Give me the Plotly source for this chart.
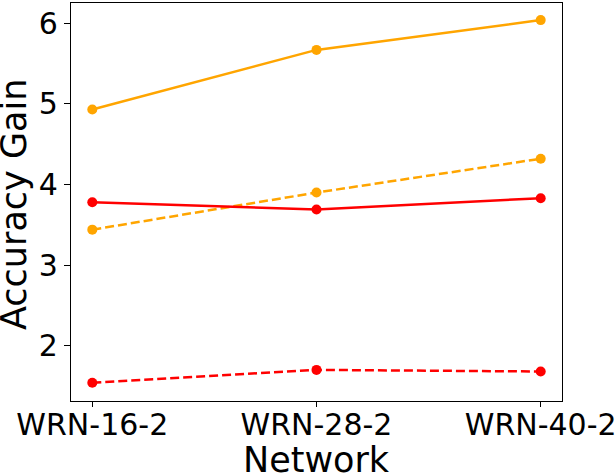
import plotly.graph_objects as go

networks = ["WRN-16-2", "WRN-28-2", "WRN-40-2"]
orange_solid = [4.93, 5.67, 6.04]
orange_dashed = [3.44, 3.90, 4.32]
red_solid = [3.78, 3.69, 3.83]
red_dashed = [1.54, 1.70, 1.68]
y_ticks = [2, 3, 4, 5, 6]

xs = list(range(len(networks)))

fig = go.Figure()
def add(y, color, dash):
    fig.add_trace(go.Scatter(
        x=xs, y=y, mode="lines+markers",
        line=dict(color=color, width=2.5, dash=dash),
        marker=dict(color=color, size=10),
        showlegend=False, cliponaxis=False))

add(orange_solid, "#FFA500", "solid")
add(orange_dashed, "#FFA500", "9px,4px")
add(red_solid, "#FF0000", "solid")
add(red_dashed, "#FF0000", "9px,4px")

fig.update_layout(
    width=615, height=474,
    margin=dict(l=71, r=53, t=3, b=73, autoexpand=False),
    paper_bgcolor="white", plot_bgcolor="white",
    font=dict(family="DejaVu Sans", color="black"),
    annotations=[
        dict(text="Accuracy Gain", textangle=-90, xref="paper", yref="paper",
             x=0, y=0.5, xanchor="center", yanchor="middle",
             xshift=-57, yshift=-3, showarrow=False, font=dict(size=35)),
        dict(text="Network", xref="paper", yref="paper",
             x=0.5, y=0, xanchor="center", yanchor="middle",
             yshift=-59, showarrow=False, font=dict(size=35)),
    ],
)
fig.update_xaxes(
    range=[-0.095, 2.095], tickvals=xs, ticktext=networks, automargin=False,
    ticklabeloverflow="allow", ticklabelstandoff=-8,
    tickfont=dict(size=30), showgrid=False, zeroline=False,
    showline=True, linecolor="black", linewidth=1.2, mirror=True,
    ticks="outside", ticklen=5, tickcolor="black",
)
fig.update_yaxes(
    range=[1.314, 6.252], tickvals=y_ticks, automargin=False,
    ticklabeloverflow="allow",
    tickfont=dict(size=30), showgrid=False, zeroline=False,
    showline=True, linecolor="black", linewidth=1.2, mirror=True,
    ticks="outside", ticklen=6, tickcolor="black",
)
fig.write_html("out.html", config={"displayModeBar": False},
               post_script="document.body.style.margin='0';")
